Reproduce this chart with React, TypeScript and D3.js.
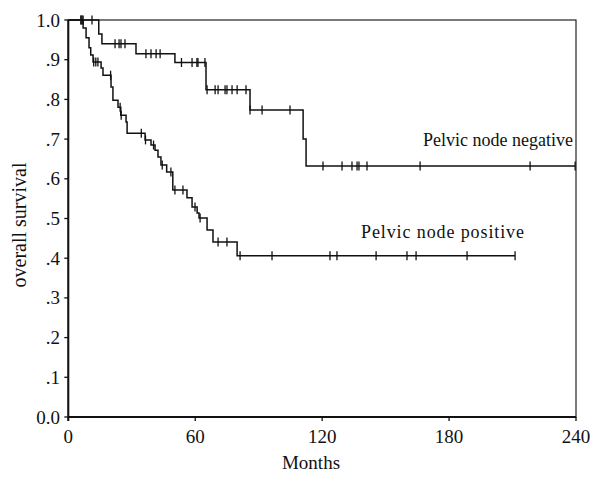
import React from "react";
import * as d3 from "d3";

// Kaplan-Meier steps: [months, survival after drop]
const negTimes = [14.4, 15.9, 32, 50.4, 65.1, 85.9, 111, 112.4];
const negSurv = [0.965, 0.94, 0.915, 0.893, 0.824, 0.773, 0.7, 0.632];
const negCensor = [6, 7, 11.2, 22.1, 24, 24.9, 26.8, 36.7, 39.1, 41.5, 43.4, 53.5, 58.5, 60.8, 61.3, 64.6, 65.6, 69.4, 70.8, 74.1, 75, 77.4, 79.8, 84, 85.9, 91.6, 104.8, 120.4, 129.4, 134.1, 136.5, 137.4, 141.2, 166.3, 218.3, 239.6];
const negEnd = 239.6;

const posTimes = [7, 8.4, 9.8, 10.6, 11.7, 15.5, 16.4, 20.2, 21.1, 23.5, 24.8, 27.3, 27.8, 36.3, 39.1, 41, 42.4, 43.8, 46.5, 49.4, 56.1, 58.5, 60.9, 61.8, 65.6, 68.4, 79.8];
const posSurv = [0.98, 0.955, 0.93, 0.912, 0.894, 0.879, 0.861, 0.831, 0.798, 0.78, 0.76, 0.743, 0.715, 0.698, 0.685, 0.672, 0.655, 0.635, 0.617, 0.572, 0.552, 0.529, 0.514, 0.501, 0.471, 0.441, 0.406];
const posCensor = [6, 6.5, 12, 13, 14, 20, 24.5, 25, 34.5, 36.5, 40.3, 44.4, 48.5, 50.4, 54.2, 59.9, 62.3, 70.8, 75, 81.2, 96.3, 123.7, 127, 145.5, 160.1, 164.4, 188.5, 211.2];
const posEnd = 211.2;

const xTicks = [0, 60, 120, 180, 240];
const yTicks = [0, 0.1, 0.2, 0.3, 0.4, 0.5, 0.6, 0.7, 0.8, 0.9, 1.0];
const yTickLabels = ["0.0", ".1", ".2", ".3", ".4", ".5", ".6", ".7", ".8", ".9", "1.0"];

const FONT = "'Liberation Serif', 'Times New Roman', serif";

export default function App() {
  const x = d3.scaleLinear().domain([0, 240]).range([68.3, 576]);
  const y = d3.scaleLinear().domain([0, 1]).range([417, 20]);

  const survAt = (times: number[], surv: number[], t: number) => {
    let s = 1;
    for (let i = 0; i < times.length; i++) if (times[i] <= t) s = surv[i];
    return s;
  };

  const makePath = (times: number[], surv: number[], end: number) => {
    const pts: [number, number][] = [[0, 1]];
    times.forEach((t, i) => pts.push([t, surv[i]]));
    pts.push([end, surv[surv.length - 1]]);
    const line = d3
      .line<[number, number]>()
      .x((d) => x(d[0]))
      .y((d) => y(d[1]))
      .curve(d3.curveStepAfter);
    return line(pts) || "";
  };

  const censorMarks = (times: number[], surv: number[], cens: number[], key: string) =>
    cens.map((t, i) => {
      const s = survAt(times, surv, t);
      return (
        <line key={key + i} x1={x(t)} x2={x(t)} y1={y(s) - 4.5} y2={y(s) + 4.5} stroke="#111" strokeWidth={1.3} />
      );
    });

  return (
    <svg width={592} height={480} style={{ position: "absolute", left: 0, top: 0, background: "#fff" }} fontFamily={FONT}>
      <rect x={0} y={0} width={592} height={480} fill="#fff" />
      {/* frame */}
      <rect x={x(0)} y={y(1)} width={x(240) - x(0)} height={y(0) - y(1)} fill="none" stroke="#222" strokeWidth={1.2} />
      <line x1={x(0)} x2={x(0)} y1={y(1)} y2={y(0) + 4} stroke="#111" strokeWidth={2} />
      <line x1={x(0)} x2={x(240)} y1={y(0)} y2={y(0)} stroke="#111" strokeWidth={1.8} />
      {/* y ticks */}
      {yTicks.map((v, i) => (
        <g key={"yt" + i}>
          <line x1={x(0) - 4} x2={x(0)} y1={y(v)} y2={y(v)} stroke="#111" strokeWidth={1.3} />
          <text x={60} y={y(v) + 6.5} textAnchor="end" fontSize={19} fill="#111">
            {yTickLabels[i]}
          </text>
        </g>
      ))}
      {/* x ticks */}
      {xTicks.map((v, i) => (
        <g key={"xt" + i}>
          <line x1={x(v)} x2={x(v)} y1={y(0)} y2={y(0) + 4} stroke="#111" strokeWidth={1.3} />
          <text x={x(v)} y={443} textAnchor="middle" fontSize={19} fill="#111">
            {v}
          </text>
        </g>
      ))}
      <text x={311} y={469} textAnchor="middle" fontSize={19} fill="#111">
        Months
      </text>
      <text transform={`translate(26,225) rotate(-90)`} textAnchor="middle" fontSize={20} fill="#111">
        overall survival
      </text>
      {/* curves */}
      <path d={makePath(negTimes, negSurv, negEnd)} fill="none" stroke="#111" strokeWidth={1.5} />
      <path d={makePath(posTimes, posSurv, posEnd)} fill="none" stroke="#111" strokeWidth={1.5} />
      {censorMarks(negTimes, negSurv, negCensor, "nc")}
      {censorMarks(posTimes, posSurv, posCensor, "pc")}
      <text x={423} y={146} fontSize={18} fill="#111">
        Pelvic node negative
      </text>
      <text x={361} y={238} fontSize={18} fill="#111" textLength={163} lengthAdjust="spacing">
        Pelvic node positive
      </text>
    </svg>
  );
}
